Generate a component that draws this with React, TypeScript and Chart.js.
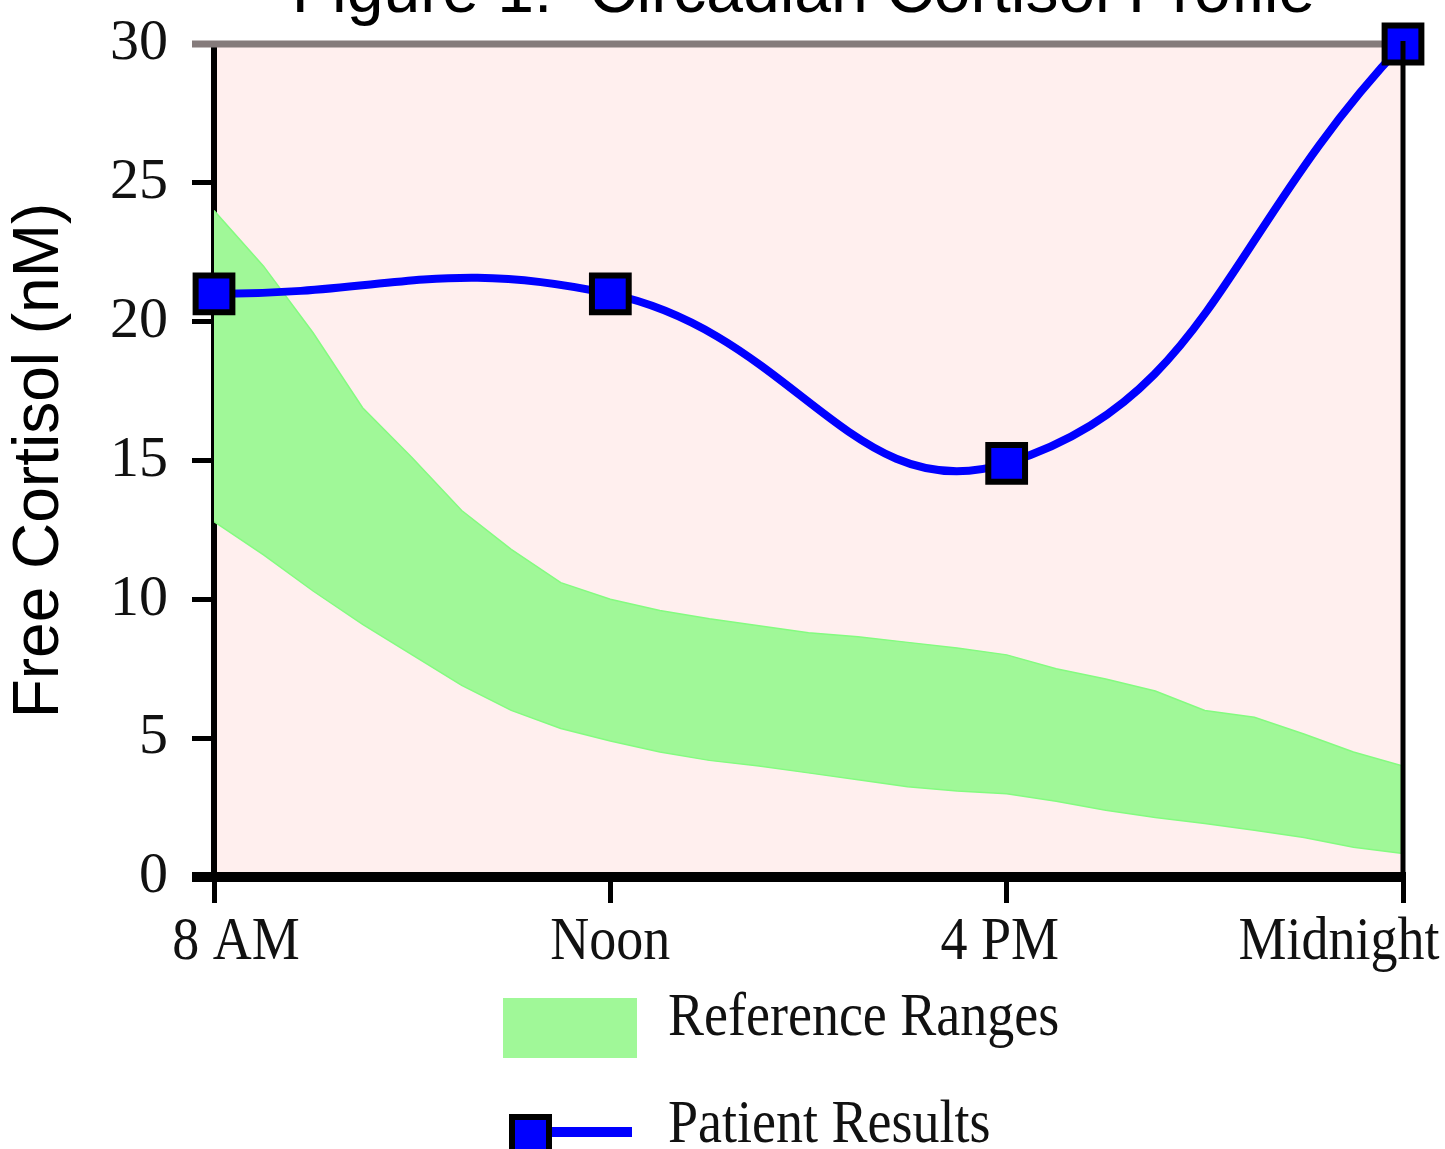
import React, { useEffect, useRef } from 'react';
import { Chart, registerables } from 'chart.js';

Chart.register(...registerables);

const chartTitle = 'Figure 1:  Circadian Cortisol Profile';
const yAxisTitle = 'Free Cortisol (nM)';
const timeLabels = ['8 AM', 'Noon', '4 PM', 'Midnight'];
const patientPositions = [0, 1, 2, 3];
const patientValues = [21, 21, 14.9, 30];
const rangePositions = [
  0, 0.125, 0.25, 0.375, 0.5, 0.625, 0.75, 0.875,
  1, 1.125, 1.25, 1.375, 1.5, 1.625, 1.75, 1.875,
  2, 2.125, 2.25, 2.375, 2.5, 2.625, 2.75, 2.875, 3,
];
const rangeUpper = [
  24.0, 22.0, 19.6, 16.9, 15.1, 13.2, 11.8, 10.6,
  10.0, 9.6, 9.3, 9.05, 8.8, 8.65, 8.45, 8.25,
  8.0, 7.5, 7.13, 6.7, 6.0, 5.75, 5.15, 4.5, 4.0,
];
const rangeLower = [
  12.8, 11.6, 10.3, 9.1, 8.0, 6.9, 6.0, 5.35,
  4.9, 4.5, 4.2, 4.0, 3.75, 3.5, 3.25, 3.1,
  3.0, 2.73, 2.4, 2.14, 1.93, 1.68, 1.42, 1.07, 0.85,
];
const yMin = 0;
const yMax = 30;
const yStep = 5;

const PINK = '#ffefee';
const GREEN = '#a0f898';
const GREEN_EDGE = '#84fb80';
const BLUE = '#0000ff';
const GREY = '#857b7b';
const TEXT = '#111111';

const xLabelShift = [22, 0, -7, -64];

function stretchedText(ctx: CanvasRenderingContext2D, text: string, x: number, y: number, sy: number) {
  ctx.save();
  ctx.translate(x, y);
  ctx.scale(1, sy);
  ctx.fillText(text, 0, 0);
  ctx.restore();
}

const decorPlugin = {
  id: 'decor',
  beforeDraw(chart: any) {
    const { ctx, chartArea } = chart;
    ctx.save();
    ctx.fillStyle = PINK;
    ctx.fillRect(chartArea.left, chartArea.top, chartArea.right - chartArea.left, chartArea.bottom - chartArea.top);
    ctx.restore();
  },
  beforeDatasetsDraw(chart: any) {
    const { ctx, chartArea } = chart;
    ctx.save();
    ctx.strokeStyle = GREY;
    ctx.lineWidth = 7;
    ctx.beginPath();
    ctx.moveTo(chartArea.left - 22, chartArea.top);
    ctx.lineTo(chartArea.right, chartArea.top);
    ctx.stroke();
    ctx.restore();
  },
  afterDatasetsDraw(chart: any) {
    const { ctx, chartArea } = chart;
    ctx.save();
    ctx.strokeStyle = '#000';
    ctx.lineWidth = 5;
    ctx.beginPath();
    ctx.moveTo(chartArea.right, chartArea.top - 3);
    ctx.lineTo(chartArea.right, chartArea.bottom);
    ctx.stroke();
    ctx.restore();
  },
  afterDraw(chart: any) {
    const { ctx, chartArea } = chart;
    const xs = chart.scales.x;
    ctx.save();
    // title (mostly above the visible page)
    ctx.fillStyle = '#000';
    ctx.font = '66px "Liberation Sans"';
    ctx.textAlign = 'center';
    ctx.textBaseline = 'alphabetic';
    ctx.fillText(chartTitle, (chartArea.left + chartArea.right) / 2 - 5, 12);

    // x tick labels
    ctx.fillStyle = TEXT;
    ctx.font = '54px "Liberation Serif"';
    ctx.textAlign = 'center';
    timeLabels.forEach((lab, i) => {
      const px = xs.getPixelForValue(patientPositions[i]) + xLabelShift[i];
      stretchedText(ctx, lab, px, 959, 1.15);
    });

    // legend
    const ds = chart.data.datasets;
    ctx.fillStyle = GREEN;
    ctx.fillRect(503, 998, 134, 60);
    ctx.fillStyle = TEXT;
    ctx.textAlign = 'left';
    stretchedText(ctx, ds[0].label, 668, 1035, 1.15);

    ctx.strokeStyle = BLUE;
    ctx.lineWidth = 10;
    ctx.beginPath();
    ctx.moveTo(545, 1132);
    ctx.lineTo(632, 1132);
    ctx.stroke();
    ctx.fillStyle = BLUE;
    ctx.fillRect(512, 1117, 37, 37);
    ctx.strokeStyle = '#000';
    ctx.lineWidth = 6;
    ctx.strokeRect(512, 1117, 37, 37);

    ctx.fillStyle = TEXT;
    stretchedText(ctx, ds[2].label, 668, 1142, 1.15);
    ctx.restore();
  },
};

export default function App() {
  const canvasRef = useRef<HTMLCanvasElement | null>(null);

  useEffect(() => {
    if (!canvasRef.current) return;
    const chart = new Chart(canvasRef.current, {
      type: 'line',
      data: {
        datasets: [
          {
            label: 'Reference Ranges',
            data: rangePositions.map((x, i) => ({ x, y: rangeUpper[i] })),
            borderColor: GREEN_EDGE,
            borderWidth: 1.5,
            backgroundColor: GREEN,
            fill: '+1',
            pointRadius: 0,
            tension: 0,
            order: 3,
          },
          {
            label: 'Reference Lower',
            data: rangePositions.map((x, i) => ({ x, y: rangeLower[i] })),
            borderColor: GREEN_EDGE,
            borderWidth: 1.5,
            backgroundColor: GREEN,
            fill: false,
            pointRadius: 0,
            tension: 0,
            order: 2,
          },
          {
            label: 'Patient Results',
            data: patientPositions.map((x, i) => ({ x, y: patientValues[i] })),
            borderColor: BLUE,
            borderWidth: 8,
            tension: 0.45,
            fill: false,
            pointStyle: 'rect',
            pointRadius: 26,
            pointBackgroundColor: BLUE,
            pointBorderColor: '#000',
            pointBorderWidth: 6,
            clip: false,
            order: 1,
          },
        ],
      },
      options: {
        animation: false,
        responsive: true,
        maintainAspectRatio: false,
        events: [],
        layout: { padding: { top: 44, right: 42, left: 0, bottom: 0 } },
        plugins: {
          legend: { display: false },
          title: { display: false },
          tooltip: { enabled: false },
        },
        scales: {
          x: {
            type: 'linear',
            min: 0,
            max: 3,
            position: 'bottom',
            z: 1,
            ticks: { stepSize: 1, display: false },
            grid: {
              drawOnChartArea: false,
              drawTicks: true,
              tickLength: 26,
              lineWidth: 5,
              color: '#000',
            },
            border: { display: true, width: 10, color: '#000' },
            afterFit: (s: any) => {
              s.height = 272;
              s.paddingLeft = 0;
              s.paddingRight = 0;
            },
          },
          y: {
            type: 'linear',
            min: yMin,
            max: yMax,
            position: 'left',
            z: 1,
            ticks: {
              stepSize: yStep,
              padding: 24,
              color: TEXT,
              font: { family: 'Liberation Serif', size: 58 },
            },
            grid: {
              drawOnChartArea: false,
              drawTicks: true,
              tickLength: 22,
              lineWidth: (c: any) => (c.tick && c.tick.value === yMin ? 10 : 5),
              color: (c: any) => (c.tick && c.tick.value === yMax ? GREY : '#000'),
            },
            border: { display: true, width: 6, color: '#000' },
            title: {
              display: true,
              text: yAxisTitle,
              color: '#000',
              font: { family: 'Liberation Sans', size: 64 },
              padding: { top: 2, bottom: 0 },
            },
            afterFit: (s: any) => {
              s.width = 214;
              s.paddingTop = 0;
              s.paddingBottom = 0;
            },
          },
        },
      } as any,
      plugins: [decorPlugin],
    });
    return () => chart.destroy();
  }, []);

  return (
    <div style={{ position: 'fixed', left: 0, top: 0, width: '1445px', height: '1149px', background: '#fff' }}>
      <canvas ref={canvasRef} />
    </div>
  );
}
